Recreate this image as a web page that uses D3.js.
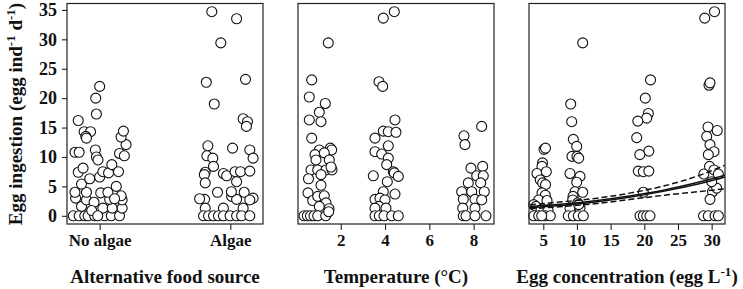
<!DOCTYPE html>
<html><head><meta charset="utf-8">
<script src="https://cdn.jsdelivr.net/npm/d3@7/dist/d3.min.js"></script>
<style>body{margin:0;background:#fff} text{font-family:"Liberation Serif","Times New Roman",serif;font-weight:bold;fill:#111}</style>
</head><body>
<svg id="chart" width="743" height="289"></svg>
<script>
// ---------- data ----------
const yTickValues = [0, 5, 10, 15, 20, 25, 30, 35];
const foodCategories = ["No algae", "Algae"];
const foodTickPositions = [1, 2];
const tempTicks = [2, 4, 6, 8];
const eggTicks = [5, 10, 15, 20, 25, 30];

// Panel 1: alternative food source (jittered x, ingestion)
const noAlgaeX = [0.798,0.843,0.886,0.911,0.962,1.038,1.089,1.152,0.861,1.025,1.096,1.172,0.816,0.899,0.957,1.076,1.172,0.811,0.899,1.008,1.063,1.164,0.861,1.127,0.836,0.873,0.924,1.000,1.025,1.068,1.093,1.144,1.152,1.189,1.202,1.164,1.182,0.811,0.843,0.967,0.975,0.987,0.881,0.930,0.894,0.899,0.836,0.975,0.970,1.000,0.939,1.114,0.985];
const noAlgaeY = [0,0,0,0,0,0,0,0,1.6,1.3,1.3,1.3,3.0,2.7,2.3,2.8,2.7,4.0,4.0,3.9,4.0,3.4,5.4,5.0,7.4,8.1,6.3,6.6,7.5,7.3,8.7,7.5,10.6,10.2,12.1,13.4,14.4,10.8,10.8,11.2,10.0,9.5,14.3,14.3,13.5,13.2,16.2,17.3,20.0,22.0,0.9,2.9,0];
const algaeX = [1.858,2.048,1.927,1.816,2.116,1.877,2.098,2.131,2.123,1.828,2.017,2.149,2.174,1.820,1.866,1.871,1.808,1.801,1.808,1.947,1.972,2.036,2.078,2.048,2.149,1.803,1.902,1.808,1.947,2.010,2.048,2.106,2.174,2.149,2.098,1.795,1.833,1.871,1.909,1.947,1.998,2.048,2.086,2.149,2.008,1.765];
const algaeY = [34.7,33.5,29.4,22.7,23.2,19.0,16.5,16.0,15.2,11.9,11.5,11.2,9.8,10.2,9.8,8.4,7.4,7.0,5.6,7.2,6.8,7.5,7.5,5.8,7.6,2.8,4.0,1.3,1.3,3.3,2.8,4.0,3.0,2.7,1.3,0,0,0,0,0,0,0,0,0,4.1,2.9];

// Panel 2: temperature (jittered x, ingestion)
const temp1X = [1.438,0.689,0.580,1.303,1.032,0.580,1.108,0.689,1.032,1.528,1.591,0.838,1.257,1.483,0.883,0.657,0.959,1.334,1.605,1.560,1.108,0.544,1.108,0.521,0.734,0.959,1.257,1.334,1.032,1.470,0.341,0.490,0.634,0.792,0.959,1.321,1.456];
const temp1Y = [29.4,23.1,20.2,19.1,17.6,16.3,16.0,13.2,11.2,11.5,11.2,10.4,10.7,9.5,9.5,7.8,7.8,7.8,7.8,8.3,7.0,6.3,5.2,3.9,2.6,3.3,3.4,2.2,1.6,1.2,0,0,0,0,0,0,0.7];
const temp4X = [4.418,3.921,3.727,3.894,4.449,3.921,4.147,4.494,3.546,4.147,3.546,3.849,4.147,4.075,4.372,4.418,4.598,3.470,4.102,3.921,4.449,3.546,3.772,3.998,3.727,3.546,4.043,3.546,3.740,3.953,4.300,4.598];
const temp4Y = [34.7,33.6,22.8,22.0,16.3,14.4,14.3,14.2,13.2,11.9,10.9,10.5,9.8,8.7,7.5,7.3,6.7,6.8,5.8,4.1,3.7,2.8,3.0,2.7,1.6,1.3,1.3,0,0,0,0,0];
const temp8X = [8.363,7.564,7.609,7.880,8.408,8.138,8.436,7.759,8.318,7.460,7.912,8.481,7.533,8.061,8.363,7.506,8.061,7.533,7.655,8.061,8.558];
const temp8Y = [15.2,13.6,12.1,8.1,8.4,6.8,6.8,5.6,5.6,4.1,4.1,4.1,2.8,2.8,2.7,1.3,1.3,0,0,0,0];

// Panel 3: egg concentration (jittered x, ingestion)
const egg5X = [5.107,5.330,4.884,4.810,4.068,5.449,4.558,4.914,5.330,4.810,5.300,4.320,5.553,3.578,3.919,4.662,5.701,3.578,4.320,5.300,6.043,4.766];
const egg5Y = [11.3,11.5,9.0,8.4,7.2,7.5,6.1,5.6,5.3,3.9,3.5,2.7,2.6,1.9,1.6,1.0,1.0,0,0,0,0,0];
const egg10X = [10.853,9.072,9.220,9.458,9.963,9.264,10.007,10.260,8.968,10.452,9.963,9.710,10.853,9.413,9.369,10.111,8.968,10.452,10.260,8.715,9.458,10.200,10.942];
const egg10Y = [29.4,19.0,16.0,13.0,11.8,10.1,10.1,9.8,7.2,6.7,5.7,4.1,4.0,3.3,2.7,2.2,1.3,1.3,1.9,0,0,0,0];
const egg20X = [20.920,20.148,20.593,20.356,19.034,18.871,20.668,19.331,19.109,19.851,20.668,19.851,19.361,19.851,20.356,20.846];
const egg20Y = [23.1,20.0,17.4,16.6,16.1,13.3,11.0,10.4,7.6,7.5,7.6,4.0,0,0,0,0];
const egg30X = [28.968,30.423,29.606,29.755,29.458,30.824,29.264,29.755,30.349,29.503,29.681,30.349,28.834,30.987,30.126,30.749,29.755,30.007,28.790,29.502,30.497,30.987];
const egg30Y = [33.6,34.7,22.2,22.6,15.1,14.5,13.5,12.1,10.9,10.4,8.4,7.8,7.1,7.1,4.1,4.7,2.8,5.8,0,0,0,0];

// Fitted model curves (panel 3)
const fitX     = [3, 8, 13, 18, 23, 28, 32];
const fitMainY = [1.6, 2.0, 2.6, 3.4, 4.4, 5.7, 6.9];
const fitAltY  = [1.4, 1.8, 2.4, 3.2, 4.2, 5.4, 6.6];
const fitUpY   = [1.9, 2.4, 3.0, 3.9, 5.1, 6.8, 8.6];
const fitLoY   = [1.2, 1.6, 2.1, 2.8, 3.5, 4.1, 4.6];

// ---------- drawing ----------
const svg = d3.select("#chart");
svg.append("rect").attr("width",743).attr("height",289).attr("fill","#fff");

const plotTop = 3.5, plotBottom = 224;
const y = d3.scaleLinear().domain([-1.39, 36.09]).range([plotBottom, plotTop]);

const zip = (xs, ys) => xs.map((v, i) => [v, ys[i]]);

const panels = [
  { x0: 67, x1: 263, domain: [0.75, 2.25], ticks: foodTickPositions,
    fmt: (d, i) => foodCategories[i], title: "food",
    pts: zip(noAlgaeX, noAlgaeY).concat(zip(algaeX, algaeY)) },
  { x0: 298, x1: 494, domain: [0.07, 8.92], ticks: tempTicks,
    fmt: d => d, title: "temp",
    pts: zip(temp1X, temp1Y).concat(zip(temp4X, temp4Y), zip(temp8X, temp8Y)) },
  { x0: 529, x1: 725, domain: [2.88, 31.98], ticks: eggTicks,
    fmt: d => d, title: "egg",
    pts: zip(egg5X, egg5Y).concat(zip(egg10X, egg10Y), zip(egg20X, egg20Y), zip(egg30X, egg30Y)) }
];

panels.forEach((p, pi) => {
  const x = d3.scaleLinear().domain(p.domain).range([p.x0, p.x1]);
  const g = svg.append("g");
  const clipId = "clip" + pi;
  svg.append("clipPath").attr("id", clipId).append("rect")
    .attr("x", p.x0).attr("y", plotTop).attr("width", p.x1 - p.x0).attr("height", plotBottom - plotTop);

  g.append("g").selectAll("circle").data(p.pts).join("circle")
    .attr("cx", d => x(d[0])).attr("cy", d => y(d[1])).attr("r", 5)
    .attr("fill", "#fff").attr("stroke", "#111").attr("stroke-width", 1.1);

  if (p.title === "egg") {
    const lines = [
      [fitMainY, null], [fitAltY, null], [fitUpY, "6,3"], [fitLoY, "6,3"]
    ];
    const lg = g.append("g").attr("clip-path", `url(#${clipId})`);
    lines.forEach(([ys, dash]) => {
      const line = d3.line().x(d => x(d[0])).y(d => y(d[1])).curve(d3.curveMonotoneX);
      lg.append("path").attr("d", line(zip(fitX, ys)))
        .attr("fill", "none").attr("stroke", "#111").attr("stroke-width", 1.5)
        .attr("stroke-dasharray", dash);
    });
  }

  svg.append("rect").attr("x", p.x0).attr("y", plotTop).attr("width", p.x1 - p.x0).attr("height", plotBottom - plotTop)
    .attr("fill", "none").attr("stroke", "#222").attr("stroke-width", 1.2);

  const ax = d3.axisBottom(x).tickValues(p.ticks).tickSize(6).tickPadding(4).tickFormat(p.fmt);
  const axg = svg.append("g").attr("transform", `translate(0,${plotBottom})`).call(ax);
  axg.select(".domain").remove();
  axg.selectAll(".tick line").attr("stroke", "#222").attr("stroke-width", 1.1);
  axg.selectAll(".tick text").attr("font-size", 17).attr("font-family", "Liberation Serif")
    .attr("font-weight", "bold").attr("fill", "#111").attr("dy", "0.72em");
});

const yax = d3.axisLeft(y).tickValues(yTickValues).tickSize(5).tickPadding(5);
const yg = svg.append("g").attr("transform", "translate(67,0)").call(yax);
yg.select(".domain").remove();
yg.selectAll(".tick line").attr("stroke", "#222").attr("stroke-width", 1.1);
yg.selectAll(".tick text").attr("font-size", 18).attr("font-family", "Liberation Serif")
  .attr("font-weight", "bold").attr("fill", "#111");

const titleY = 283;
svg.append("text").attr("x", 165).attr("y", titleY).attr("text-anchor", "middle")
  .attr("font-size", 19).text("Alternative food source");
svg.append("text").attr("x", 396).attr("y", titleY).attr("text-anchor", "middle")
  .attr("font-size", 19).text("Temperature (°C)");
const t3 = svg.append("text").attr("x", 627).attr("y", titleY).attr("text-anchor", "middle")
  .attr("font-size", 19);
t3.append("tspan").text("Egg concentration (egg L");
t3.append("tspan").attr("font-size", 13).attr("dy", -7).text("-1");
t3.append("tspan").attr("dy", 7).text(")");

const yt = svg.append("text").attr("transform", "translate(22,114) rotate(-90)")
  .attr("text-anchor", "middle").attr("font-size", 19);
yt.append("tspan").text("Egg ingestion (egg ind");
yt.append("tspan").attr("font-size", 13).attr("dy", -7).text("-1");
yt.append("tspan").attr("dy", 7).text(" d");
yt.append("tspan").attr("font-size", 13).attr("dy", -7).text("-1");
yt.append("tspan").attr("dy", 7).text(")");
</script>
</body></html>
